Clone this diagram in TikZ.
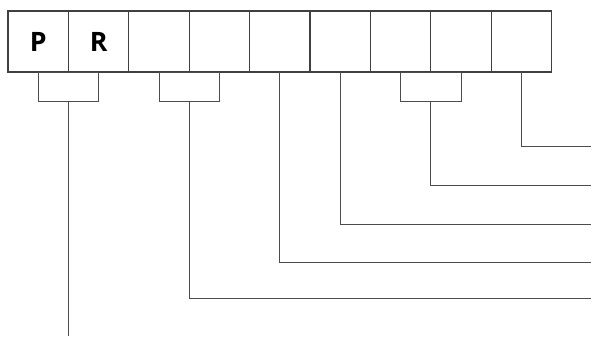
\documentclass[tikz,border=0pt]{standalone}
\usepackage{fontspec}
\setsansfont{Open Sans}
\usetikzlibrary{positioning}

\begin{document}
\begin{tikzpicture}[x=0.25mm, y=-0.25mm,
      cell/.style={draw=black!75, line width=0.9pt, minimum width=15.1mm, minimum height=15.25mm, inner sep=0pt, outer sep=0pt, font=\sffamily\bfseries\fontsize{19}{21}\selectfont},
      grp/.style={draw=black!70, line width=0.7pt, minimum width=15.1mm, minimum height=7.25mm, inner sep=0pt, outer sep=0pt},
      wire/.style={draw=black!70, line width=0.7pt}]
    \useasboundingbox (0,0) rectangle (591,336);
    \node[cell, anchor=north west] (c1) at (8,11) {P};
    \node[cell, right=0pt of c1] (c2) {R};
    \node[cell, right=0pt of c2] (c3) {};
    \node[cell, right=0pt of c3] (c4) {};
    \node[cell, right=0pt of c4] (c5) {};
    \node[cell, right=0pt of c5] (c6) {};
    \node[cell, right=0pt of c6] (c7) {};
    \node[cell, right=0pt of c7] (c8) {};
    \node[cell, right=0pt of c8] (c9) {};
    % groups under pairs of cells
    \node[grp, anchor=north] (g12) at (c1.south east) {};
    \node[grp, anchor=north] (g34) at (c3.south east) {};
    \node[grp, anchor=north] (g78) at (c7.south east) {};
    % free ends on the right edge
    \coordinate (bot) at (68,336);
    \coordinate (e9) at (591,146);
    \coordinate (e78) at (591,185);
    \coordinate (e6) at (591,224);
    \coordinate (e5) at (591,262);
    \coordinate (e34) at (591,298);
    \draw[wire] (g12.south) -- (g12.south |- bot);
    \draw[wire] (g34.south) |- (e34);
    \draw[wire] (c5.south) |- (e5);
    \draw[wire] (c6.south) |- (e6);
    \draw[wire] (g78.south) |- (e78);
    \draw[wire] (c9.south) |- (e9);
  \end{tikzpicture}
\end{document}
